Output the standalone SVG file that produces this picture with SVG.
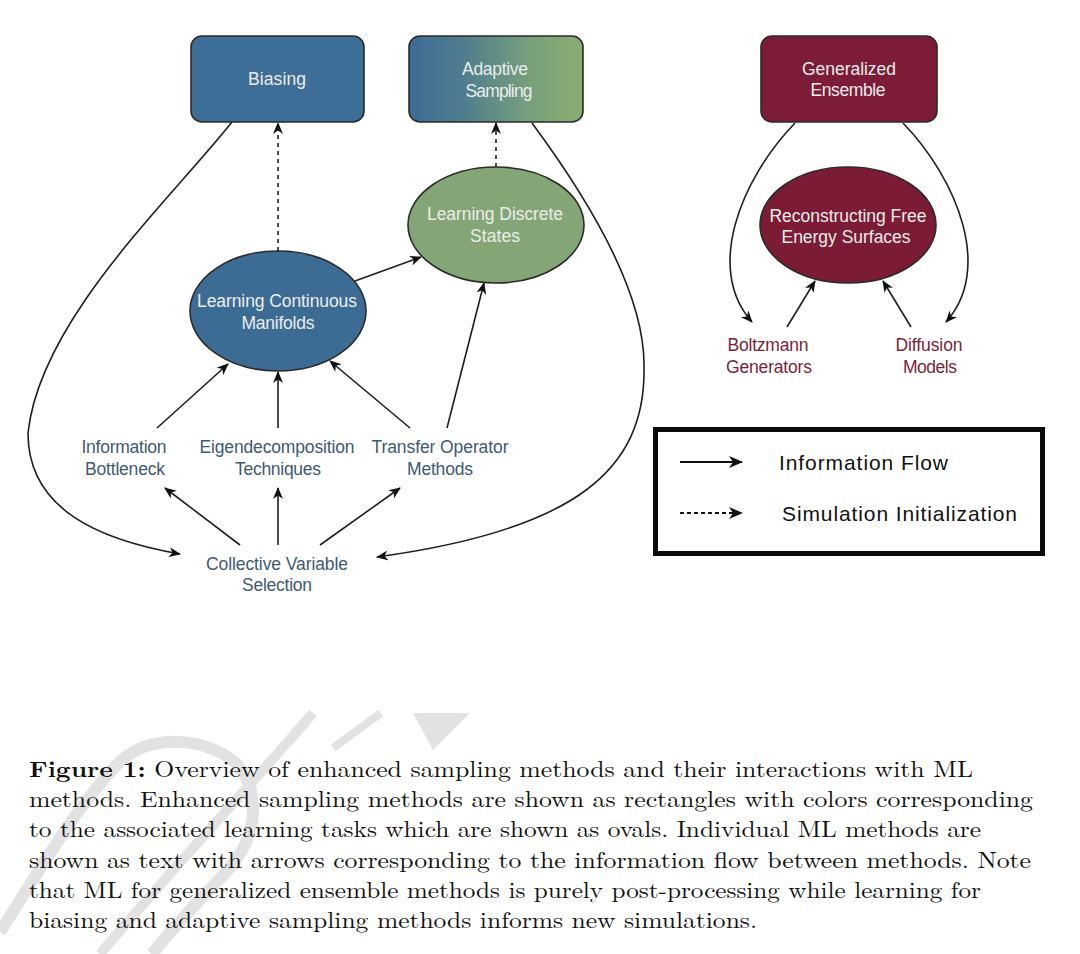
<svg xmlns="http://www.w3.org/2000/svg" width="1080" height="954" viewBox="0 0 1080 954">
<defs>
<linearGradient id="adaptGrad" x1="0" y1="0" x2="1" y2="0">
<stop offset="0" stop-color="#3d6c96"/>
<stop offset="0.3" stop-color="#4e7c8e"/>
<stop offset="0.7" stop-color="#78a07c"/>
<stop offset="1" stop-color="#8cad72"/>
</linearGradient>
<marker id="ah" markerWidth="12" markerHeight="10" refX="11" refY="5" orient="auto" markerUnits="userSpaceOnUse">
<path d="M0,0 L12,5 L0,10 L3.5,5 z" fill="#111"/>
</marker>
<marker id="ahL" markerWidth="14" markerHeight="12" refX="13" refY="6" orient="auto" markerUnits="userSpaceOnUse">
<path d="M0,0 L14,6 L0,12 L4,6 z" fill="#111"/>
</marker>
</defs>
<style>
.box{stroke:#2b2b2b;stroke-width:1.6}
.ntext{font-family:"Liberation Sans",Arial,sans-serif;font-size:17.5px;fill:#ececec;text-anchor:middle}
.mtext{font-family:"Liberation Sans",Arial,sans-serif;font-size:17.5px;fill:#3e5a74;text-anchor:middle}
.rtext{font-family:"Liberation Sans",Arial,sans-serif;font-size:17.5px;fill:#7a1f3a;text-anchor:middle}
.ltext{font-family:"Liberation Sans",Arial,sans-serif;font-size:21px;fill:#111}
.edge{fill:none;stroke:#1e1e1e;stroke-width:1.6;marker-end:url(#ah)}
.dash{stroke-dasharray:4,4}
.cap{font-family:"Latin Modern Roman","Liberation Serif","Times New Roman",serif;font-size:22.5px;fill:#111}
.wm{fill:none;stroke:#e2e2e2;stroke-linecap:butt}
</style>
<rect width="1080" height="954" fill="#ffffff"/>

<!-- watermark -->
<g id="watermark">
<path class="wm" d="M313,713 C260,775 180,860 100,954" stroke-width="10"/>
<path class="wm" d="M0,932 C40,870 80,800 122,760 C150,736 200,735 235,762 C262,792 258,836 228,870 C200,900 172,928 152,954" stroke-width="12"/>
<path class="wm" d="M381,713 L333,748" stroke-width="8"/>
<polygon points="413,713 470,713 433,750" fill="#e2e2e2"/>
</g>

<!-- connectors -->
<g id="connectors">
<path class="edge dash" d="M278,251 L278,123"/>
<path class="edge dash" d="M496,167 L496,123"/>
<path class="edge" d="M355,281 L421,257"/>
<path class="edge" d="M447,428 L484,283"/>
<path class="edge" d="M157,428 L228,364"/>
<path class="edge" d="M278,428 L278,372"/>
<path class="edge" d="M410,428 L330,361"/>
<path class="edge" d="M240,545 L165,488"/>
<path class="edge" d="M278,545 L278,488"/>
<path class="edge" d="M320,545 L400,488"/>
<path class="edge" d="M232,122 C170,200 40,320 28,433 C28,510 100,540 180,554"/>
<path class="edge" d="M532,123 C600,215 645,300 644,367 C646,470 575,530 377,557"/>
<path class="edge" d="M795,123 C740,180 705,270 752,322"/>
<path class="edge" d="M903,123 C958,180 993,270 946,322"/>
<path class="edge" d="M787,327 L815,281"/>
<path class="edge" d="M911,327 L883,281"/>
</g>

<!-- nodes -->
<g id="biasing">
<rect class="box" x="191" y="36" width="173" height="86" rx="11" fill="#3d6e97"/>
<text class="ntext" x="277" y="85" textLength="58">Biasing</text>
</g>
<g id="adaptive-sampling">
<rect class="box" x="409" y="36" width="174" height="86" rx="11" fill="url(#adaptGrad)"/>
<text class="ntext" x="495" y="75" textLength="66">Adaptive</text>
<text class="ntext" x="499" y="97" textLength="67">Sampling</text>
</g>
<g id="generalized-ensemble">
<rect class="box" x="761" y="36" width="176" height="86" rx="11" fill="#7c1c36"/>
<text class="ntext" x="849" y="75" textLength="94">Generalized</text>
<text class="ntext" x="848" y="96" textLength="75">Ensemble</text>
</g>
<g id="learning-continuous-manifolds">
<ellipse class="box" cx="278" cy="311" rx="88" ry="60" fill="#3c6c94"/>
<text class="ntext" x="277" y="307" textLength="160">Learning Continuous</text>
<text class="ntext" x="278" y="329" textLength="73">Manifolds</text>
</g>
<g id="learning-discrete-states">
<ellipse class="box" cx="496" cy="225" rx="88" ry="58" fill="#84a676"/>
<text class="ntext" x="495" y="220" textLength="136">Learning Discrete</text>
<text class="ntext" x="495" y="242" textLength="50">States</text>
</g>
<g id="reconstructing-free-energy">
<ellipse class="box" cx="848" cy="225" rx="88" ry="58" fill="#7b1b34"/>
<text class="ntext" x="848" y="222" textLength="157">Reconstructing Free</text>
<text class="ntext" x="846" y="243" textLength="129">Energy Surfaces</text>
</g>
<g id="information-bottleneck">
<text class="mtext" x="124" y="453" textLength="85">Information</text>
<text class="mtext" x="125" y="475" textLength="80">Bottleneck</text>
</g>
<g id="eigendecomposition">
<text class="mtext" x="277" y="453" textLength="155">Eigendecomposition</text>
<text class="mtext" x="278" y="475" textLength="86">Techniques</text>
</g>
<g id="transfer-operator">
<text class="mtext" x="440" y="453" textLength="137">Transfer Operator</text>
<text class="mtext" x="440" y="475" textLength="66">Methods</text>
</g>
<g id="collective-variable">
<text class="mtext" x="277" y="570" textLength="142">Collective Variable</text>
<text class="mtext" x="277" y="591" textLength="70">Selection</text>
</g>
<g id="boltzmann">
<text class="rtext" x="768" y="351" textLength="81">Boltzmann</text>
<text class="rtext" x="769" y="373" textLength="86">Generators</text>
</g>
<g id="diffusion">
<text class="rtext" x="929" y="351" textLength="67">Diffusion</text>
<text class="rtext" x="930" y="373" textLength="54">Models</text>
</g>

<!-- legend -->
<g id="legend">
<rect x="655.5" y="429.5" width="387" height="124" fill="#ffffff" stroke="#0a0a0a" stroke-width="5"/>
<path d="M680,462 L742,462" fill="none" stroke="#111" stroke-width="1.8" marker-end="url(#ahL)"/>
<path d="M680,513 L742,513" fill="none" stroke="#111" stroke-width="1.8" stroke-dasharray="4,3" marker-end="url(#ahL)"/>
<text class="ltext" x="779" y="470" textLength="169">Information Flow</text>
<text class="ltext" x="782" y="521" textLength="235">Simulation Initialization</text>
</g>

<!-- caption -->
<g id="caption">
<text class="cap" x="29" y="777" textLength="944" lengthAdjust="spacingAndGlyphs"><tspan font-weight="bold">Figure 1:</tspan> Overview of enhanced sampling methods and their interactions with ML</text>
<text class="cap" x="29" y="807" textLength="1004" lengthAdjust="spacingAndGlyphs">methods. Enhanced sampling methods are shown as rectangles with colors corresponding</text>
<text class="cap" x="29" y="837" textLength="952" lengthAdjust="spacingAndGlyphs">to the associated learning tasks which are shown as ovals. Individual ML methods are</text>
<text class="cap" x="29" y="868" textLength="1002" lengthAdjust="spacingAndGlyphs">shown as text with arrows corresponding to the information flow between methods. Note</text>
<text class="cap" x="29" y="898" textLength="952" lengthAdjust="spacingAndGlyphs">that ML for generalized ensemble methods is purely post-processing while learning for</text>
<text class="cap" x="29" y="928" textLength="728" lengthAdjust="spacingAndGlyphs">biasing and adaptive sampling methods informs new simulations.</text>
</g>
</svg>
